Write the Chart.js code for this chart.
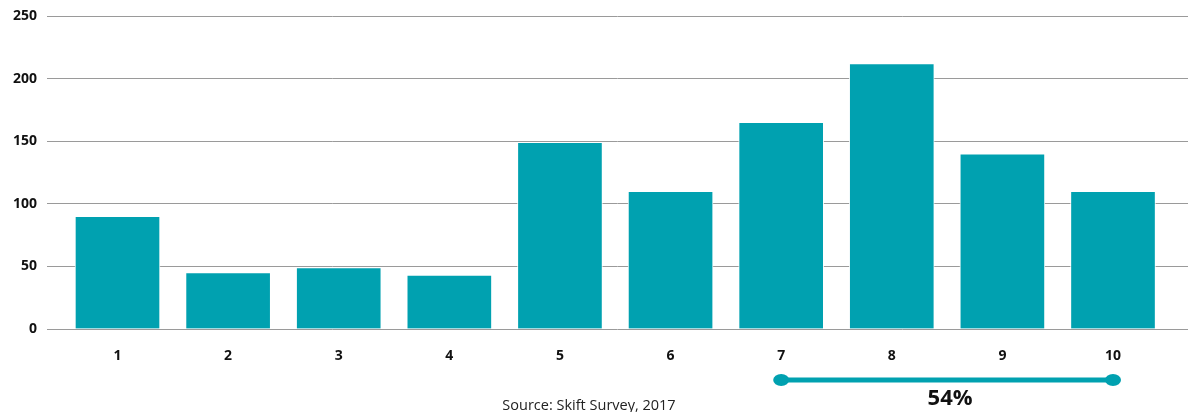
<!DOCTYPE html>
<html>
<head>
<meta charset="utf-8">
<script src="https://cdn.jsdelivr.net/npm/chart.js@4.4.1/dist/chart.umd.min.js"></script>
<style>
  html, body { margin: 0; padding: 0; background: #fff; }
  #wrap { width: 1188px; height: 412px; position: relative; }
</style>
</head>
<body>
<div id="wrap"><canvas id="c" width="1188" height="412"></canvas></div>
<script>
// Survey scores and number of respondents per score
const categories = [1, 2, 3, 4, 5, 6, 7, 8, 9, 10];
const responses = [90, 45, 49, 43, 149, 110, 165, 212, 140, 110];
const yTicks = [0, 50, 100, 150, 200, 250];
// Highlighted score range and its share
const bracketRange = [7, 10];
const bracketLabel = '54%';
const sourceNote = 'Source: Skift Survey, 2017';

const TEAL = '#00a1b0';
const FONT = "'Open Sans', 'DejaVu Sans', sans-serif";

const points = categories.map((c, i) => ({ x: c, y: responses[i] }));

const annotations = {
  id: 'annotations',
  afterDraw(chart) {
    const { ctx, scales: { x } } = chart;
    const x1 = x.getPixelForValue(bracketRange[0]);
    const x2 = x.getPixelForValue(bracketRange[1]);
    const y = 380;
    ctx.save();
    ctx.strokeStyle = TEAL;
    ctx.fillStyle = TEAL;
    ctx.lineWidth = 5;
    ctx.beginPath();
    ctx.moveTo(x1, y);
    ctx.lineTo(x2, y);
    ctx.stroke();
    [x1, x2].forEach(px => {
      ctx.beginPath();
      ctx.ellipse(px, y, 8, 6, 0, 0, Math.PI * 2);
      ctx.fill();
    });
    ctx.fillStyle = '#111';
    ctx.font = `700 22px ${FONT}`;
    ctx.textAlign = 'center';
    ctx.textBaseline = 'middle';
    ctx.fillText(bracketLabel, (x1 + x2) / 2 + 3, 399);
    ctx.fillStyle = '#222';
    ctx.font = `400 14.5px ${FONT}`;
    ctx.textBaseline = 'alphabetic';
    ctx.fillText(sourceNote, 589, 410);
    ctx.restore();
  }
};

new Chart(document.getElementById('c'), {
  type: 'bar',
  data: {
    datasets: [{
      data: points,
      backgroundColor: TEAL,
      borderColor: 'rgba(255,255,255,0.85)',
      borderWidth: 1,
      barThickness: 85
    }]
  },
  options: {
    responsive: false,
    animation: false,
    layout: { padding: { top: 16, right: 0, bottom: 0, left: 0 } },
    plugins: { legend: { display: false }, tooltip: { enabled: false } },
    scales: {
      x: {
        type: 'linear',
        offset: false,
        min: 0.3626,
        max: 10.678,
        grid: { display: false },
        border: { display: false },
        afterFit(scale) { scale.height = 83; },
        afterBuildTicks(scale) { scale.ticks = categories.map(v => ({ value: v })); },
        ticks: {
          includeBounds: false,
          padding: 11,
          color: '#111',
          font: { family: FONT, size: 14, weight: '700' },
          callback: v => String(v)
        }
      },
      y: {
        min: 0,
        max: 250,
        afterFit(scale) { scale.width = 47; scale.paddingTop = 0; scale.paddingBottom = 0; },
        afterBuildTicks(scale) { scale.ticks = yTicks.map(v => ({ value: v })); },
        grid: { color: '#9a9a9a', lineWidth: 1, drawTicks: false },
        border: { display: false },
        ticks: {
          padding: 10,
          color: '#111',
          font: { family: FONT, size: 14, weight: '700' }
        }
      }
    }
  },
  plugins: [annotations]
});
</script>
</body>
</html>
